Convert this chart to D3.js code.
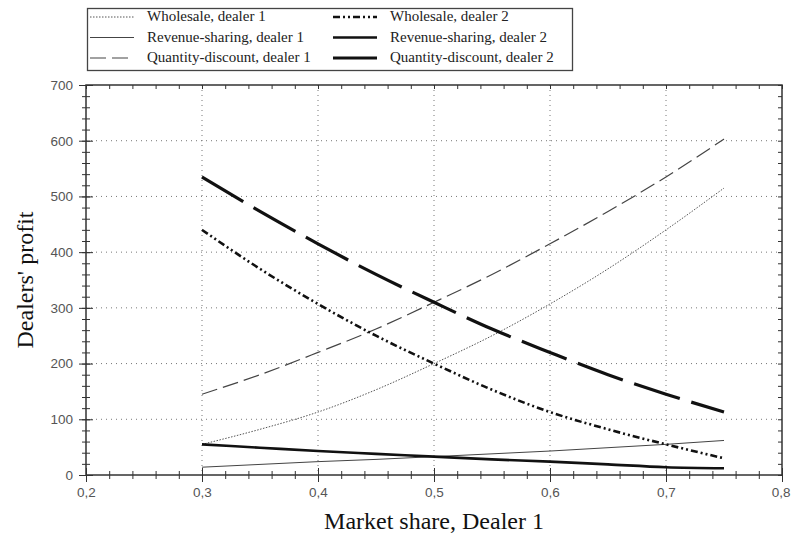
<!DOCTYPE html>
<html>
<head>
<meta charset="utf-8">
<script src="https://cdn.jsdelivr.net/npm/d3@7/dist/d3.min.js"></script>
<style>
  html, body { margin: 0; padding: 0; background: #fff; }
  svg { display: block; }
</style>
</head>
<body>
<svg id="chart" width="791" height="542"></svg>
<script>
// Market share of dealer 1 (x axis)
const share = [0.30, 0.35, 0.40, 0.45, 0.50, 0.55, 0.60, 0.65, 0.70, 0.75];

// Dealers' profit under each contract
const wholesale1 = [55, 82, 113, 153, 200, 250, 307, 370, 440, 515];
const wholesale2 = [440, 370, 307, 250, 200, 153, 113, 82, 55, 30];
const revenue1   = [14, 19, 24, 28, 33, 38, 43, 49, 55, 62];
const revenue2   = [55, 49, 43, 38, 33, 28, 24, 19, 14, 12];
const quantity1  = [145, 180, 220, 262, 310, 360, 415, 473, 535, 603];
const quantity2  = [535, 473, 415, 360, 310, 262, 220, 180, 145, 113];

const xTicks = [0.2, 0.3, 0.4, 0.5, 0.6, 0.7, 0.8];
const yTicks = [0, 100, 200, 300, 400, 500, 600, 700];

const series = [
  { name: "Wholesale, dealer 1",         values: wholesale1, color: "#555", width: 1,   dash: "1.5,1.5", col: 0, row: 0 },
  { name: "Revenue-sharing, dealer 1",   values: revenue1,   color: "#444", width: 1,   dash: null,      col: 0, row: 1 },
  { name: "Quantity-discount, dealer 1", values: quantity1,  color: "#444", width: 1.2, dash: "16,6",    col: 0, row: 2 },
  { name: "Wholesale, dealer 2",         values: wholesale2, color: "#111", width: 2.6, dash: "7,3,2,3,2,3", col: 1, row: 0 },
  { name: "Revenue-sharing, dealer 2",   values: revenue2,   color: "#111", width: 2.6, dash: null,      col: 1, row: 1 },
  { name: "Quantity-discount, dealer 2", values: quantity2,  color: "#111", width: 3.2, dash: "48,12",   col: 1, row: 2 }
];

const svg = d3.select("#chart");
const plotL = 86, plotR = 782, plotT = 85, plotB = 475;

const x = d3.scaleLinear().domain([0.2, 0.8]).range([plotL, plotR]);
const y = d3.scaleLinear().domain([0, 700]).range([plotB, plotT]);

const fmt = d => d3.format(".1f")(d).replace(".", ",");
const tickFont = "Liberation Sans, Arial, sans-serif";

// dotted grid at interior major ticks
const grid = svg.append("g");
grid.selectAll(".gx").data(xTicks.slice(1, -1)).join("line")
  .attr("x1", d => x(d)).attr("x2", d => x(d))
  .attr("y1", plotT).attr("y2", plotB)
  .attr("stroke", "#777").attr("stroke-width", 1).attr("stroke-dasharray", "1,4");
grid.selectAll(".gy").data(yTicks.slice(1, -1)).join("line")
  .attr("x1", plotL).attr("x2", plotR)
  .attr("y1", d => y(d)).attr("y2", d => y(d))
  .attr("stroke", "#777").attr("stroke-width", 1).attr("stroke-dasharray", "1,4");

// axes: ticks straddle the frame lines
const xMinor = d3.range(0.2, 0.8001, 0.02);
const yMinor = d3.range(0, 700.01, 20);

svg.append("g").attr("transform", `translate(0,${plotB})`)
  .call(d3.axisBottom(x).tickValues(xMinor).tickSize(4).tickSizeOuter(0).tickFormat(""))
  .call(g => g.select(".domain").remove())
  .call(g => g.selectAll("line").attr("y1", -4).attr("stroke", "#333"));
svg.append("g").attr("transform", `translate(0,${plotB})`)
  .call(d3.axisBottom(x).tickValues(xTicks).tickSize(7).tickSizeOuter(0).tickPadding(5).tickFormat(fmt))
  .call(g => g.select(".domain").remove())
  .call(g => g.selectAll("line").attr("y1", -7).attr("stroke", "#333"))
  .call(g => g.selectAll("text").attr("font-family", tickFont)
      .attr("font-size", 13.5).attr("fill", "#555"))
  // keep the last label inside the page edge
  .call(g => g.selectAll("text").filter(d => d === 0.8)
      .attr("text-anchor", "end").attr("dx", 8));

svg.append("g").attr("transform", `translate(${plotL},0)`)
  .call(d3.axisLeft(y).tickValues(yMinor).tickSize(4).tickSizeOuter(0).tickFormat(""))
  .call(g => g.select(".domain").remove())
  .call(g => g.selectAll("line").attr("x1", 4).attr("stroke", "#333"));
svg.append("g").attr("transform", `translate(${plotL},0)`)
  .call(d3.axisLeft(y).tickValues(yTicks).tickSize(7).tickSizeOuter(0).tickPadding(6).tickFormat(d3.format("d")))
  .call(g => g.select(".domain").remove())
  .call(g => g.selectAll("line").attr("x1", 7).attr("stroke", "#333"))
  .call(g => g.selectAll("text").attr("font-family", tickFont)
      .attr("font-size", 13.5).attr("fill", "#555"));

svg.append("g").attr("transform", `translate(0,${plotT})`)
  .call(d3.axisBottom(x).tickValues(xMinor).tickSize(4).tickSizeOuter(0).tickFormat(""))
  .call(g => g.select(".domain").remove())
  .call(g => g.selectAll("line").attr("stroke", "#333"));
svg.append("g").attr("transform", `translate(${plotR},0)`)
  .call(d3.axisLeft(y).tickValues(yMinor).tickSize(4).tickSizeOuter(0).tickFormat(""))
  .call(g => g.select(".domain").remove())
  .call(g => g.selectAll("line").attr("stroke", "#333"));

// frame
svg.append("rect").attr("x", plotL).attr("y", plotT)
  .attr("width", plotR - plotL).attr("height", plotB - plotT)
  .attr("fill", "none").attr("stroke", "#333").attr("stroke-width", 1.5);

// curves
const line = d3.line()
  .x((d, i) => x(share[i]))
  .y(d => y(d))
  .curve(d3.curveMonotoneX);

svg.append("g").selectAll("path").data(series).join("path")
  .attr("d", d => line(d.values))
  .attr("fill", "none")
  .attr("stroke", d => d.color)
  .attr("stroke-width", d => d.width)
  .attr("stroke-dasharray", d => d.dash);

// axis titles
svg.append("text")
  .attr("x", (plotL + plotR) / 2).attr("y", 529)
  .attr("text-anchor", "middle")
  .attr("font-family", "Liberation Serif, Times New Roman, serif")
  .attr("font-size", 24).attr("fill", "#111")
  .text("Market share, Dealer 1");
svg.append("text")
  .attr("transform", `translate(33,${(plotT + plotB) / 2}) rotate(-90)`)
  .attr("text-anchor", "middle")
  .attr("font-family", "Liberation Serif, Times New Roman, serif")
  .attr("font-size", 24).attr("fill", "#111")
  .text("Dealers' profit");

// legend
const legend = svg.append("g");
legend.append("rect").attr("x", 87.5).attr("y", 8.5).attr("width", 485).attr("height", 62)
  .attr("fill", "#fff").attr("stroke", "#444").attr("stroke-width", 1.3);
const colX = [90, 333];
const rowY = [21, 41.5, 62];
const items = legend.selectAll("g").data(series).join("g")
  .attr("transform", d => `translate(${colX[d.col]},${rowY[d.row]})`);
items.append("line")
  .attr("x1", 0).attr("x2", 44).attr("y1", -4).attr("y2", -4)
  .attr("stroke", d => d.color)
  .attr("stroke-width", d => d.width)
  .attr("stroke-dasharray", d => (d.col === 1 && d.row === 2) ? null : d.dash);
items.append("text")
  .attr("x", 57).attr("y", 0)
  .attr("font-family", "Liberation Serif, Times New Roman, serif")
  .attr("font-size", 15).attr("fill", "#222")
  .text(d => d.name);
</script>
</body>
</html>
